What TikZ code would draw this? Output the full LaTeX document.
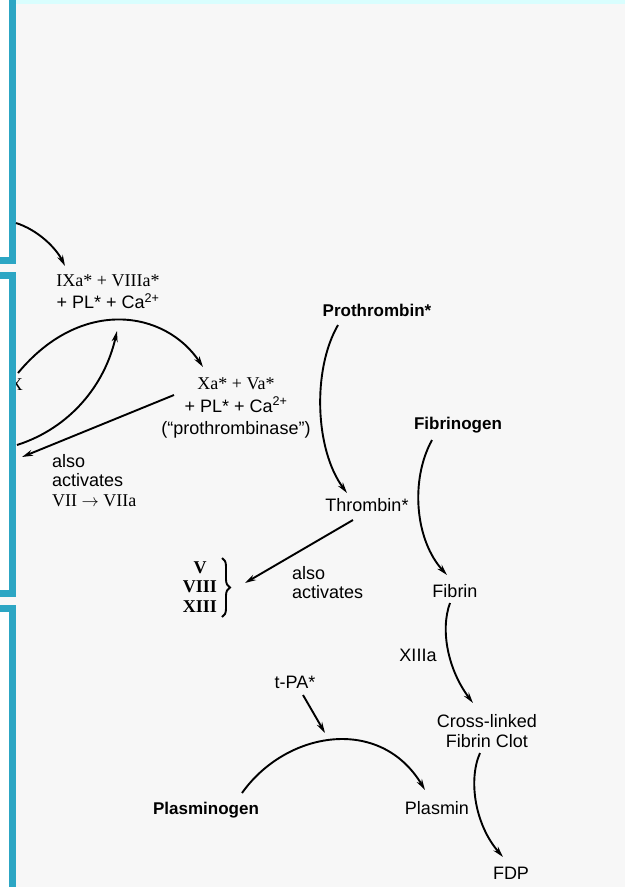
\documentclass[tikz,border=0pt]{standalone}
\usepackage{fontspec}
\setmainfont{Liberation Sans}
\newfontfamily\serifrm{Liberation Serif}
\usetikzlibrary{arrows.meta,decorations.pathreplacing}
\definecolor{bggray}{HTML}{F7F7F7}
\definecolor{framecol}{HTML}{2CA6C4}
\definecolor{topstrip}{HTML}{D9FEFE}
\begin{document}
\begin{tikzpicture}[x=1pt,y=-1pt,
  txt/.style={inner sep=0pt,align=center,font=\fontsize{18}{22}\selectfont},
  btxt/.style={txt,font=\fontsize{17}{20}\selectfont\bfseries},
  stxt/.style={txt,font=\fontsize{18}{22}\selectfont\serifrm},
  conn/.style={line width=1.9pt,-{Stealth[length=11pt,width=6pt]}},
  link/.style={line width=1.9pt},
  frame/.style={draw=framecol,line width=7pt,fill=white}]
\useasboundingbox (0,0) rectangle (625,887);
\fill[bggray] (0,0) rectangle (625,887);
\fill[topstrip] (16,0) rectangle (625,4);
% partly hidden label at the left edge
\node[stxt,anchor=east] (xcut) at (23,385) {X};
% blue frames of the neighbouring panels
\begin{scope}
\clip (0,0) rectangle (625,887);
\draw[frame] (-30,-30) rectangle (12.5,260.5);
\draw[frame] (-30,275.5) rectangle (12.5,593);
\draw[frame] (-30,608.5) rectangle (12.5,920);
\end{scope}
% labels
\node[txt] (ixa) at (108,292) {{\serifrm IXa* + VIIIa*}\\+ PL* + Ca\textsuperscript{2+}};
\node[txt,font=\fontsize{18}{22.5}\selectfont] (xa) at (236,408) {{\serifrm Xa* + Va*}\\+ PL* + Ca\textsuperscript{2+}\\(“prothrombinase”)};
\node[txt,anchor=north west,align=left,font=\fontsize{18}{19.5}\selectfont] (also1) at (52,454) {also\\activates\\{\serifrm VII $\rightarrow$ VIIa}};
\node[btxt] (pro) at (377,310) {Prothrombin*};
\node[btxt] (fbg) at (458,425) {Fibrinogen};
\node[txt] (thr) at (367,505) {Thrombin*};
\node[txt,font=\fontsize{18}{19.5}\selectfont\serifrm\bfseries] (fac) at (200,587) {V\\VIII\\XIII};
\node[txt,anchor=north west,align=left,font=\fontsize{18}{19.5}\selectfont] (also2) at (292,566) {also\\activates};
\node[txt] (fbn) at (455,591) {Fibrin};
\node[txt] (x13) at (418,655) {XIIIa};
\node[txt,font=\fontsize{18}{20}\selectfont] (clot) at (487,731) {Cross-linked\\Fibrin Clot};
\node[txt] (fdp) at (511,873) {FDP};
\node[txt] (tpa) at (295,682) {t-PA*};
\node[btxt] (plg) at (206,810) {Plasminogen};
\node[txt] (pls) at (437,808) {Plasmin};
% connector end points
\coordinate (inA) at (16,223);   \coordinate (ixaIn) at (65,266);
\coordinate (arcL) at (18,373);  \coordinate (xaIn) at (203,367);
\coordinate (inB) at (17,445);   \coordinate (ixaUp) at (117,331);
\coordinate (xaOut) at (174,395); \coordinate (outC) at (22,457);
\coordinate (proOut) at (338,325); \coordinate (thrIn) at (347,493);
\coordinate (fbgOut) at (432,440); \coordinate (fbnIn) at (447,575);
\coordinate (thrOut) at (353,520); \coordinate (braceIn) at (245,583);
\coordinate (fbnOut) at (450,603); \coordinate (clotIn) at (473,703);
\coordinate (clotOut) at (480,753); \coordinate (fdpIn) at (503,857);
\coordinate (tpaOut) at (303,695); \coordinate (arcMid) at (325,733);
\coordinate (plgOut) at (242,793); \coordinate (plsIn) at (425,790);
\coordinate (brTop) at (222,558); \coordinate (brBot) at (222,617);
% connectors
\draw[conn] (inA) .. controls (38,230) and (56,248) .. (ixaIn);
\draw[conn] (arcL) .. controls (81,297) and (165,310) .. (xaIn);
\draw[conn] (inB) .. controls (70,428) and (105,385) .. (ixaUp);
\draw[conn] (xaOut) -- (outC);
\draw[conn] (proOut) .. controls (312,370) and (315,450) .. (thrIn);
\draw[conn] (fbgOut) .. controls (410,480) and (415,540) .. (fbnIn);
\draw[conn] (thrOut) -- (braceIn);
\draw[conn] (fbnOut) .. controls (440,630) and (448,670) .. (clotIn);
\draw[conn] (clotOut) .. controls (468,780) and (475,825) .. (fdpIn);
\draw[conn] (tpaOut) -- (arcMid);
\draw[conn] (plgOut) .. controls (286,731) and (380,715) .. (plsIn);
\draw[link,decorate,decoration={brace,amplitude=8pt}] (brTop) -- (brBot);
\end{tikzpicture}
\end{document}
